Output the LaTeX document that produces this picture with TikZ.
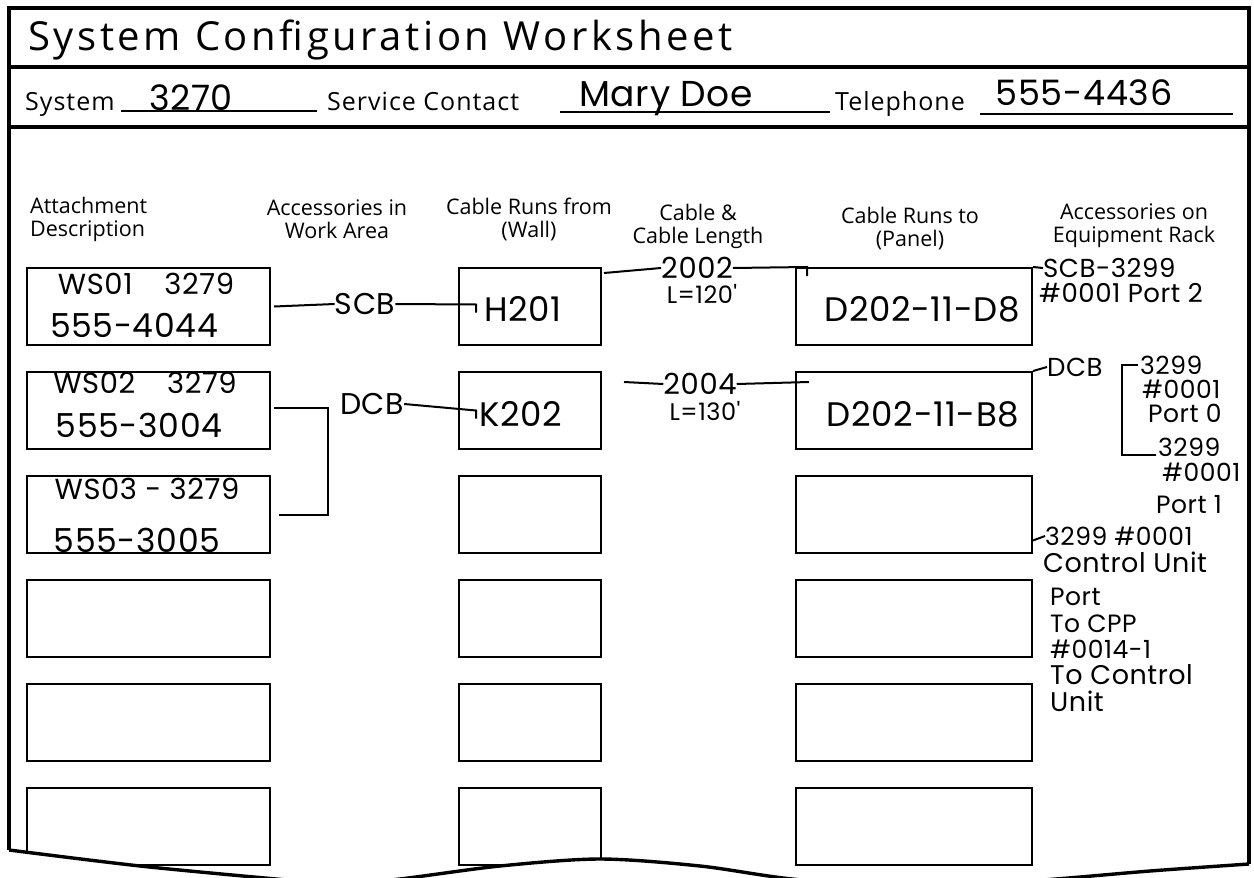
\documentclass[tikz,border=0pt]{standalone}
\usepackage{fontspec}
\setmainfont{Open Sans}
\newfontfamily\titlefont[LetterSpace=9]{Open Sans}
\newfontfamily\formfont[LetterSpace=4]{Open Sans}
\newfontfamily\hand[LetterSpace=2]{Poppins}
\usetikzlibrary{calc,positioning}

\begin{document}
\begin{tikzpicture}[x=1pt, y=-1pt,
    frame/.style={line width=3.4pt},
    wire/.style={line width=2pt},
    slot/.style={draw, line width=2pt, minimum width=#1, minimum height=77pt, inner sep=0pt},
    head/.style={font=\fontsize{21.5}{23}\selectfont, align=center, inner sep=0pt},
    info/.style={font=\formfont\fontsize{25}{25}\selectfont, inner sep=0pt, anchor=base west},
    hw/.style={font=\hand\fontsize{#1}{#1}\selectfont, inner sep=0pt}]
    \useasboundingbox (0,0) rectangle (1254,878);
    \draw[frame] (9,850) -- (9,8) -- (1249,8) -- (1249,864);
    \draw[frame] (9,67) -- (1249,67); \draw[frame] (9,127) -- (1249,127);

    \node[font=\titlefont\fontsize{40}{40}\selectfont, inner sep=0pt, anchor=base west] (title) at (28,50) {System Configuration Worksheet};
    \node[info] (sys) at (25,110) {System}; \node[hw=35] (sysval) at (191,98) {3270};
    \node[info] (contact) at (327,110) {Service Contact}; \node[hw=36] (name) at (666,99) {Mary Doe};
    \node[info] (tel) at (835,110) {Telephone}; \node[hw=35] (telval) at (1084,93) {555-4436};
    \draw[wire] (121,111) -- (317,111); \draw[wire] (560,112) -- (830,112); \draw[wire] (980,114) -- (1233,114);

    \node[head, align=left, anchor=west] (hatt) at (30,219) {Attachment\\Description};
    \node[head] (hwork) at (337,219) {Accessories in\\Work Area};
    \node[head] (hwall) at (529,219) {Cable Runs from\\(Wall)};
    \node[head] (hcab) at (698,226) {Cable \&\\Cable Length};
    \node[head] (hpan) at (910,229) {Cable Runs to\\(Panel)};
    \node[head] (hrack) at (1134,226) {Accessories on\\Equipment Rack};

    \foreach \r in {1,...,6} {
        \node[slot=243pt] (att\r) at (148.5,{306.5+104*(\r-1)}) {};
        \node[slot=142pt] (wall\r) at (530,{306.5+104*(\r-1)}) {};
        \node[slot=236pt] (pan\r) at (914,{306.5+104*(\r-1)}) {};
    }

    \node[hw=29] (ws1) at (146,284) {WS01\hspace{1.1em}3279}; \node[hw=33] (ph1) at (134,325) {555-4044};
    \node[hw=29] (ws2) at (145,383) {WS02\hspace{1.1em}3279}; \node[hw=33] (ph2) at (139,425) {555-3004};
    \node[hw=29] (ws3) at (147,489) {WS03 - 3279}; \node[hw=33] (ph3) at (137,540) {555-3005};
    \node[hw=30] (scb) at (365,304) {SCB}; \node[hw=30] (dcb) at (372,404) {DCB};
    \node[hw=34] (h201) at (523,309) {H201}; \node[hw=34] (k202) at (521,414) {K202};
    \node[hw=29] (c2002) at (697,268) {2002}; \node[hw=24] (l120) at (702,294) {L=120'};
    \node[hw=29] (c2004) at (700,384) {2004}; \node[hw=24] (l130) at (705,411) {L=130'};
    \node[hw=34] (d8) at (922,309) {D202-11-D8}; \node[hw=34] (b8) at (923,414) {D202-11-B8};

    \node[hw=26, anchor=west] (scbr) at (1043,268) {SCB-3299};
    \node[hw=26, anchor=west] (port2) at (1039,293) {\#0001 Port 2};
    \node[hw=26, anchor=west] (dcbr) at (1047,367) {DCB};
    \node[hw=25, anchor=west] (p0id) at (1140,365) {3299};
    \node[hw=25, anchor=west] (p0no) at (1142,389) {\#0001};
    \node[hw=25, anchor=west] (p0) at (1148,413) {Port 0};
    \node[hw=25, anchor=west] (p1id) at (1158,447) {3299};
    \node[hw=25, anchor=west] (p1no) at (1162,472) {\#0001};
    \node[hw=25, anchor=west] (p1) at (1156,505) {Port 1};
    \node[hw=25, anchor=west] (cuid) at (1045,536) {3299 \#0001};
    \node[hw=27, anchor=west] (cu) at (1043,562) {Control Unit};
    \node[hw=25, anchor=west] (cuport) at (1050,597) {Port};
    \node[hw=25, anchor=west] (cpp) at (1050,624) {To CPP};
    \node[hw=25, anchor=west] (cppno) at (1050,649) {\#0014-1};
    \node[hw=27, anchor=west] (tocu) at (1050,675) {To Control};
    \node[hw=27, anchor=west] (unit) at (1050,701) {Unit};

    \draw[wire] ($(att1.east)+(3,0)$) -- (scb.west);
    \draw[wire] (scb.east) -- ($(wall1.west)+(18,-2)$) -- ++(0,8);
    \draw[wire] ($(wall1.north east)+(2,6)$) -- (c2002.west);
    \draw[wire] (c2002.east) -- ($(pan1.north west)+(12,0)$) -- ++(0,9);
    \draw[wire] ($(att2.east)+(3,-3)$) -- ++(54,0) |- ($(att3.east)+(8,0)$);
    \draw[wire] (dcb.east) -- ($(wall2.west)+(18,0)$) -- ++(0,8);
    \draw[wire] ($(wall2.north east)+(22,11)$) -- (c2004.west);
    \draw[wire] (c2004.east) -- ($(pan2.north west)+(14,11)$);
    \draw[wire] (pan1.north east) -- (scbr.west); \draw[wire] (pan2.north east) -- (dcbr.west);
    \draw[wire] ($(p0id.west)+(-2,0)$) -- ++(-16,0) |- ($(p1id.west)+(-2,8)$);
    \draw[wire] ($(pan3.east)+(0,26)$) -- (cuid.west);

    \fill[white] plot[smooth] coordinates {(9,850) (140,866) (276,879) (340,884) (400,879) (500,866) (600,859) (700,866) (792,879) (920,889) (1056,879) (1150,871) (1249,864)} -- (1260,900) -- (-5,900) -- cycle;
    \draw[frame] plot[smooth] coordinates {(9,850) (140,866) (276,879) (340,884) (400,879) (500,866) (600,859) (700,866) (792,879) (920,889) (1056,879) (1150,871) (1249,864)};
\end{tikzpicture}
\end{document}
